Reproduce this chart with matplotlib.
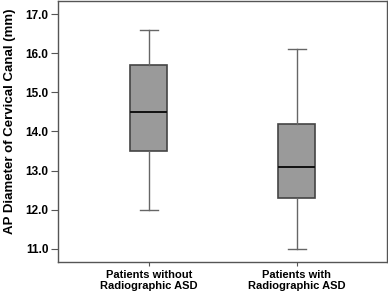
import matplotlib
matplotlib.use('Agg')
from matplotlib import pyplot as plt

plt.rcParams['font.family'] = ['Liberation Sans', 'DejaVu Sans']

# group labels and box statistics (mm)
groups = ['Patients without\nRadiographic ASD', 'Patients with\nRadiographic ASD']
whisker_low = [12.0, 11.0]
q1 = [13.5, 12.3]
median = [14.5, 13.1]
q3 = [15.7, 14.2]
whisker_high = [16.6, 16.1]
yticks = [11.0, 12.0, 13.0, 14.0, 15.0, 16.0, 17.0]

stats = []
for i in range(len(groups)):
    stats.append(dict(whislo=whisker_low[i], q1=q1[i], med=median[i],
                      q3=q3[i], whishi=whisker_high[i], fliers=[]))

fig = plt.figure(figsize=(3.88, 2.96), dpi=100)
ax = fig.add_axes([58/388, 1 - 262/296, 329/388, 261/296])

edge = '#444444'
ax.bxp(stats, positions=[1, 2], widths=0.25, capwidths=0.12,
       showfliers=False, patch_artist=True,
       boxprops=dict(facecolor='#9a9a9a', edgecolor=edge, linewidth=1.2),
       medianprops=dict(color='#111111', linewidth=1.4),
       whiskerprops=dict(color='#666666', linewidth=1.0),
       capprops=dict(color='#666666', linewidth=1.0))

ax.set_xlim(0.387, 2.61)
ax.set_ylim(10.66, 17.34)
ax.set_yticks(yticks)
ax.set_yticklabels([f'{v:.1f}' for v in yticks])
ax.set_xticks([1, 2])
ax.set_xticklabels(groups, fontweight='bold', fontsize=8, linespacing=1.1)
for lab in ax.get_yticklabels():
    lab.set_fontweight('bold')
    lab.set_fontsize(8.5)
ax.set_ylabel('AP Diameter of Cervical Canal (mm)', fontweight='bold', fontsize=9.5)
ax.yaxis.set_label_coords(-0.128, 0.54)

for s in ax.spines.values():
    s.set_color('#555555')
    s.set_linewidth(1.0)
ax.tick_params(axis='y', colors='#555555', labelcolor='black', length=5, width=0.8, pad=2)
ax.tick_params(axis='x', colors='#555555', labelcolor='black', length=3, width=0.8, pad=3)

fig.savefig('out.png', dpi=100)
